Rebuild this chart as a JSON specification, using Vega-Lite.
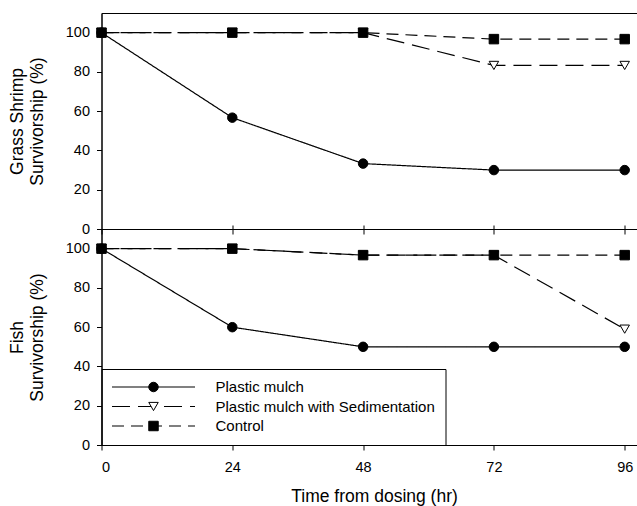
{
  "$schema": "https://vega.github.io/schema/vega-lite/v6.json",
  "padding": {"left": 7.5, "top": 12, "right": 0, "bottom": 0},
  "background": "white",
  "datasets": {
    "d": [
      {"panel": "Grass Shrimp", "series": "Plastic mulch", "time": 0, "value": 100},
      {"panel": "Grass Shrimp", "series": "Plastic mulch", "time": 24, "value": 56.7},
      {"panel": "Grass Shrimp", "series": "Plastic mulch", "time": 48, "value": 33.3},
      {"panel": "Grass Shrimp", "series": "Plastic mulch", "time": 72, "value": 30},
      {"panel": "Grass Shrimp", "series": "Plastic mulch", "time": 96, "value": 30},
      {"panel": "Grass Shrimp", "series": "Plastic mulch with Sedimentation", "time": 0, "value": 100},
      {"panel": "Grass Shrimp", "series": "Plastic mulch with Sedimentation", "time": 24, "value": 100},
      {"panel": "Grass Shrimp", "series": "Plastic mulch with Sedimentation", "time": 48, "value": 100},
      {"panel": "Grass Shrimp", "series": "Plastic mulch with Sedimentation", "time": 72, "value": 83.3},
      {"panel": "Grass Shrimp", "series": "Plastic mulch with Sedimentation", "time": 96, "value": 83.3},
      {"panel": "Grass Shrimp", "series": "Control", "time": 0, "value": 100},
      {"panel": "Grass Shrimp", "series": "Control", "time": 24, "value": 100},
      {"panel": "Grass Shrimp", "series": "Control", "time": 48, "value": 100},
      {"panel": "Grass Shrimp", "series": "Control", "time": 72, "value": 96.7},
      {"panel": "Grass Shrimp", "series": "Control", "time": 96, "value": 96.7},
      {"panel": "Fish", "series": "Plastic mulch", "time": 0, "value": 100},
      {"panel": "Fish", "series": "Plastic mulch", "time": 24, "value": 60},
      {"panel": "Fish", "series": "Plastic mulch", "time": 48, "value": 50},
      {"panel": "Fish", "series": "Plastic mulch", "time": 72, "value": 50},
      {"panel": "Fish", "series": "Plastic mulch", "time": 96, "value": 50},
      {"panel": "Fish", "series": "Plastic mulch with Sedimentation", "time": 0, "value": 100},
      {"panel": "Fish", "series": "Plastic mulch with Sedimentation", "time": 24, "value": 100},
      {"panel": "Fish", "series": "Plastic mulch with Sedimentation", "time": 48, "value": 96.7},
      {"panel": "Fish", "series": "Plastic mulch with Sedimentation", "time": 72, "value": 96.7},
      {"panel": "Fish", "series": "Plastic mulch with Sedimentation", "time": 96, "value": 59},
      {"panel": "Fish", "series": "Control", "time": 0, "value": 100},
      {"panel": "Fish", "series": "Control", "time": 24, "value": 100},
      {"panel": "Fish", "series": "Control", "time": 48, "value": 96.7},
      {"panel": "Fish", "series": "Control", "time": 72, "value": 96.7},
      {"panel": "Fish", "series": "Control", "time": 96, "value": 96.7}
    ]
  },
  "data": {"name": "d"},
  "spacing": 0,
  "bounds": "flush",
  "resolve": {
    "scale": {"x": "independent", "y": "independent", "strokeDash": "independent", "shape": "independent", "fill": "independent", "stroke": "independent"},
    "legend": {"strokeDash": "independent", "shape": "independent", "fill": "independent", "stroke": "independent"}
  },
  "vconcat": [
    {
      "width": 545,
      "height": 216,
      "transform": [{"filter": "datum.panel === 'Grass Shrimp'"}],
      "encoding": {
        "x": {"field": "time", "type": "quantitative", "scale": {"domain": [0, 100], "nice": false},
              "axis": {"values": [0, 24, 48, 72, 96], "labels": false, "title": null}},
        "y": {"field": "value", "type": "quantitative", "scale": {"domain": [0, 110], "nice": false},
              "axis": {"values": [0, 20, 40, 60, 80, 100], "title": ["Grass Shrimp", "Survivorship (%)"]}}
      },
      "layer": [
        {
          "mark": {"type": "line", "color": "black", "strokeWidth": 1.2},
          "encoding": {
            "strokeDash": {"field": "series", "type": "nominal",
              "sort": ["Plastic mulch", "Plastic mulch with Sedimentation", "Control"],
              "scale": {"range": [[1, 0], [18, 8], [12, 7]]},
              "legend": {"orient": "none", "legendX": 0, "legendY": 356, "title": null,
                "symbolType": "M-10,0H10", "symbolSize": 68.9, "symbolStrokeWidth": 1.2, "symbolStrokeColor": "black",
                "symbolOffset": 34, "labelOffset": 54.5, "labelFontSize": 15, "labelFont": "Liberation Sans",
                "labelColor": "black", "labelLimit": 400, "rowPadding": 3.5, "padding": 10.5,
                "strokeColor": "black"}}
          }
        },
        {
          "mark": {"type": "point", "filled": true, "strokeWidth": 1, "size": 90, "opacity": 1},
          "encoding": {
            "shape": {"field": "series", "type": "nominal",
              "scale": {"domain": ["Plastic mulch", "Plastic mulch with Sedimentation", "Control"], "range": ["circle", "triangle-down", "square"]},
              "legend": {"orient": "none", "legendX": 0, "legendY": 356, "title": null,
                "symbolSize": 90, "symbolStrokeWidth": 1, "symbolStrokeColor": "black",
                "symbolOffset": 34, "labelOffset": 54.5, "labelFontSize": 15, "labelFont": "Liberation Sans",
                "labelOpacity": 0, "labelLimit": 400, "rowPadding": 3.5, "padding": 10.5}},
            "fill": {"field": "series", "type": "nominal",
              "scale": {"domain": ["Plastic mulch", "Plastic mulch with Sedimentation", "Control"], "range": ["black", "white", "black"]},
              "legend": {"orient": "none", "legendX": 0, "legendY": 356, "title": null,
                "symbolSize": 90, "symbolStrokeWidth": 1, "symbolStrokeColor": "black",
                "symbolOffset": 34, "labelOffset": 54.5, "labelFontSize": 15, "labelFont": "Liberation Sans",
                "labelOpacity": 0, "labelLimit": 400, "rowPadding": 3.5, "padding": 10.5}},
            "stroke": {"field": "series", "type": "nominal",
              "scale": {"domain": ["Plastic mulch", "Plastic mulch with Sedimentation", "Control"], "range": ["black", "black", "black"]},
              "legend": {"orient": "none", "legendX": 0, "legendY": 356, "title": null,
                "symbolSize": 90, "symbolStrokeWidth": 1, "symbolStrokeColor": "black",
                "symbolOffset": 34, "labelOffset": 54.5, "labelFontSize": 15, "labelFont": "Liberation Sans",
                "labelOpacity": 0, "labelLimit": 400, "rowPadding": 3.5, "padding": 10.5}}
          }
        }
      ]
    },
    {
      "width": 545,
      "height": 216,
      "transform": [{"filter": "datum.panel === 'Fish'"}],
      "resolve": {"axis": {"x": "independent"}},
      "layer": [
        {
          "mark": {"type": "line", "color": "black", "strokeWidth": 1.2},
          "encoding": {
            "x": {"field": "time", "type": "quantitative", "scale": {"domain": [0, 100], "nice": false},
                  "axis": {"values": [0, 24, 48, 72, 96], "title": "Time from dosing (hr)", "labelPadding": 10, "titlePadding": 14}},
            "y": {"field": "value", "type": "quantitative", "scale": {"domain": [0, 110], "nice": false},
                  "axis": {"values": [0, 20, 40, 60, 80, 100], "title": ["Fish", "Survivorship (%)"]}},
            "strokeDash": {"field": "series", "type": "nominal",
              "scale": {"domain": ["Plastic mulch", "Plastic mulch with Sedimentation", "Control"], "range": [[1, 0], [18, 8], [12, 7]]},
              "legend": null}
          }
        },
        {
          "mark": {"type": "point", "filled": true, "stroke": "black", "strokeWidth": 1, "size": 90, "opacity": 1},
          "encoding": {
            "x": {"field": "time", "type": "quantitative", "scale": {"domain": [0, 100], "nice": false},
                  "axis": {"orient": "top", "values": [24, 48, 72, 96], "labels": false, "title": null, "domain": false, "tickSize": 4}},
            "y": {"field": "value", "type": "quantitative"},
            "shape": {"field": "series", "type": "nominal",
              "scale": {"domain": ["Plastic mulch", "Plastic mulch with Sedimentation", "Control"], "range": ["circle", "triangle-down", "square"]},
              "legend": null},
            "fill": {"field": "series", "type": "nominal",
              "scale": {"domain": ["Plastic mulch", "Plastic mulch with Sedimentation", "Control"], "range": ["black", "white", "black"]},
              "legend": null}
          }
        }
      ]
    }
  ],
  "config": {
    "font": "Liberation Sans",
    "view": {"stroke": "black", "strokeWidth": 1},
    "axis": {
      "labelFont": "Liberation Sans", "labelFontSize": 14.5, "labelColor": "black",
      "titleFont": "Liberation Sans", "titleFontSize": 17.5, "titleFontWeight": "normal", "titleColor": "black",
      "titleLineHeight": 20,
      "domainColor": "black", "tickColor": "black", "grid": false, "tickSize": 5, "labelPadding": 7, "titlePadding": 18.5
    }
  }
}
